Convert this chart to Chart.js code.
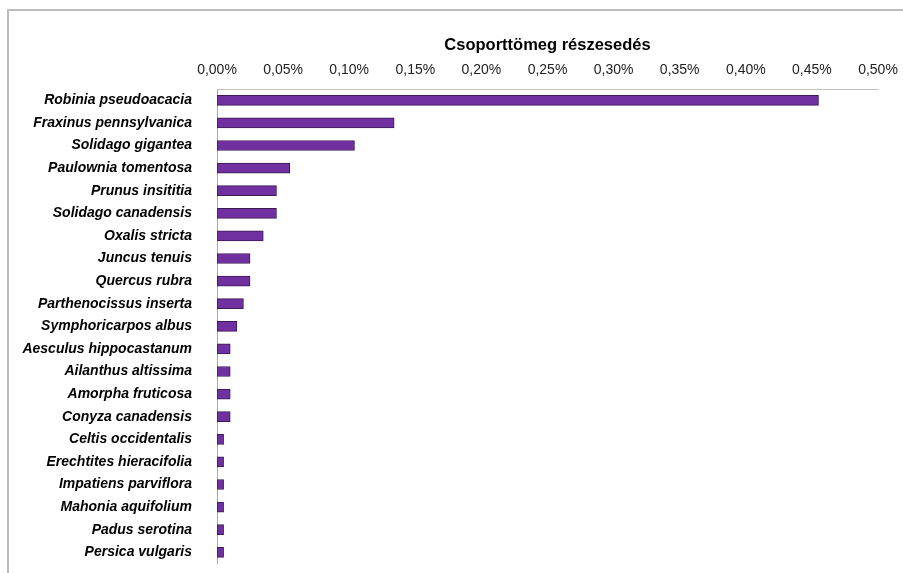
<!DOCTYPE html>
<html>
<head>
<meta charset="utf-8">
<script src="https://cdn.jsdelivr.net/npm/chart.js@4"></script>
<style>
  html, body { margin: 0; background: #fff; overflow: hidden; }
  #frame { position: absolute; left: 7px; top: 9px; width: 1000px; height: 700px; border: 2px solid #bdbdbd; }
  #wrap { position: absolute; left: 0; top: 0; width: 903px; height: 589px; }
</style>
</head>
<body>
<div id="frame"></div>
<div id="wrap"><canvas id="myChart"></canvas></div>
<script>
// species and their share (%)
let labels = ['Robinia pseudoacacia', 'Fraxinus pennsylvanica', 'Solidago gigantea', 'Paulownia tomentosa',
    'Prunus insititia', 'Solidago canadensis', 'Oxalis stricta', 'Juncus tenuis', 'Quercus rubra',
    'Parthenocissus inserta', 'Symphoricarpos albus', 'Aesculus hippocastanum', 'Ailanthus altissima',
    'Amorpha fruticosa', 'Conyza canadensis', 'Celtis occidentalis', 'Erechtites hieracifolia',
    'Impatiens parviflora', 'Mahonia aquifolium', 'Padus serotina', 'Persica vulgaris'];
let datas = [0.455, 0.134, 0.104, 0.055, 0.045, 0.045, 0.035, 0.025, 0.025, 0.020, 0.015,
    0.010, 0.010, 0.010, 0.010, 0.005, 0.005, 0.005, 0.005, 0.005, 0.005];
let tickValues = [0, 0.05, 0.10, 0.15, 0.20, 0.25, 0.30, 0.35, 0.40, 0.45, 0.50];

function chartMaker() {
    let ctx = document.getElementById('myChart').getContext('2d');
    Chart.defaults.font.family = "'Liberation Sans', Arial, sans-serif";
    Chart.defaults.color = '#000';

    new Chart(ctx, {
        type: 'bar',
        data: {
            labels: labels,
            datasets: [{
                label: 'Csoporttömeg részesedés',
                data: datas,
                backgroundColor: '#7030a0',
                borderColor: '#3b1a55',
                borderWidth: 1,
                borderSkipped: false,
                barThickness: 10
            }]
        },
        options: {
            indexAxis: 'y',
            responsive: true,
            maintainAspectRatio: false,
            animation: false,
            layout: { padding: { left: 0, right: 25, top: 36, bottom: 0 } },
            plugins: { legend: { display: false }, tooltip: { enabled: false } },
            scales: {
                x: {
                    position: 'top',
                    min: 0,
                    max: 0.5,
                    afterBuildTicks: (scale) => { scale.ticks = tickValues.map(v => ({ value: v })); },
                    afterFit: (scale) => { scale.height = 53; },
                    grid: { display: false },
                    border: { display: true, color: '#c0c0c0', width: 1 },
                    ticks: {
                        padding: 2,
                        font: { size: 14 },
                        color: '#222',
                        callback: (v) => v.toFixed(2).replace('.', ',') + '%'
                    },
                    title: {
                        display: true,
                        text: 'Csoporttömeg részesedés',
                        font: { size: 16.5, weight: 'bold' },
                        color: '#000',
                        padding: { top: 0, bottom: 4 }
                    }
                },
                y: {
                    afterFit: (scale) => { scale.width = 217; },
                    grid: { display: false },
                    border: { display: true, color: '#a8a8a8', width: 1 },
                    ticks: {
                        padding: 17,
                        autoSkip: false,
                        font: { size: 14, weight: 'bold', style: 'italic' },
                        color: '#000'
                    }
                }
            }
        }
    });
}

chartMaker();
</script>
</body>
</html>
